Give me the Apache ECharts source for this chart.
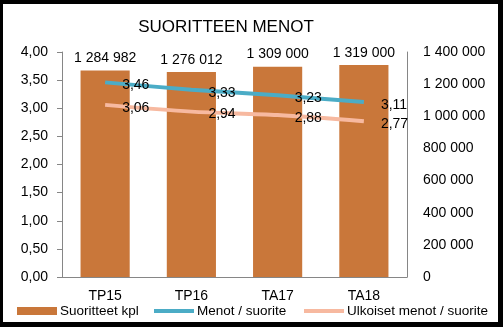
<!DOCTYPE html>
<html><head><meta charset="utf-8">
<script src="https://cdn.jsdelivr.net/npm/echarts@6/dist/echarts.min.js"></script>
<style>
html,body{margin:0;padding:0;background:#000;}
#wrap{position:absolute;left:0;top:0;width:503px;height:327px;background:#000;}
#c{position:absolute;left:3px;top:4px;width:495px;height:318px;background:#fff;}
</style></head><body>
<div id="wrap"><div id="c"></div></div>
<script>
const categories = ['TP15','TP16','TA17','TA18'];
const suoritteet = [1284982, 1276012, 1309000, 1319000];
const menot = [3.46, 3.33, 3.23, 3.11];
const ulkoiset = [3.06, 2.94, 2.88, 2.77];
const leftTicks = [0, 0.5, 1, 1.5, 2, 2.5, 3, 3.5, 4];
const rightTicks = [0, 200000, 400000, 600000, 800000, 1000000, 1200000, 1400000];

const F = 'Liberation Sans, Arial, sans-serif';
const FS = 14;
const fmtThousands = v => String(v).replace(/\B(?=(\d{3})+(?!\d))/g, ' ');
const fmtDec = v => v.toFixed(2).replace('.', ',');

const chart = echarts.init(document.getElementById('c'), null, {renderer:'canvas'});
const legendBase = {top: 300, padding:0, itemGap: 0, textStyle:{fontFamily:F, fontSize:13.5, color:'#000', padding:[0,0,0,-2]}, itemWidth:40};
chart.setOption({
  animation:false,
  textStyle:{fontFamily:F},
  title:{text:'SUORITTEEN MENOT', left:218, top:10, textAlign:'center',
    textStyle:{fontFamily:F, fontSize:17, fontWeight:'normal', color:'#000'}},
  grid:{left:59, right:91, top:48, bottom:45, containLabel:false},
  legend:[
    Object.assign({}, legendBase, {left:14, itemHeight:8, data:[{name:'Suoritteet kpl', icon:'rect'}]}),
    Object.assign({}, legendBase, {left:151, itemHeight:4, data:[{name:'Menot / suorite', icon:'rect'}]}),
    Object.assign({}, legendBase, {left:301, itemHeight:4, data:[{name:'Ulkoiset menot / suorite', icon:'rect'}]})
  ],
  xAxis:{type:'category', data:categories,
    axisLine:{lineStyle:{color:'#868686'}}, axisTick:{show:false},
    axisLabel:{fontFamily:F, fontSize:FS, color:'#000', margin:12}},
  yAxis:[
    {type:'value', min:0, max:4, interval:0.5,
     axisLine:{show:true, lineStyle:{color:'#868686'}},
     axisTick:{show:true, length:5, lineStyle:{color:'#868686'}},
     splitLine:{show:false},
     axisLabel:{fontFamily:F, fontSize:FS, color:'#000', margin:14, formatter: v => fmtDec(v)}},
    {type:'value', min:0, max:1400000, interval:200000, position:'right',
     axisLine:{show:true, lineStyle:{color:'#868686'}},
     axisTick:{show:false}, splitLine:{show:false},
     axisLabel:{fontFamily:F, fontSize:FS, color:'#000', margin:16, formatter: v => fmtThousands(v)}}
  ],
  series:[
    {name:'Suoritteet kpl', type:'bar', yAxisIndex:1, data:suoritteet, barWidth:'57%',
     itemStyle:{color:'#C9773A'},
     label:{show:true, position:'top', distance:5, fontFamily:F, fontSize:FS, color:'#000',
       formatter: p => fmtThousands(p.value)}},
    {name:'Menot / suorite', type:'line', yAxisIndex:0, data:menot, smooth:0.3,
     showSymbol:true, symbol:'circle', symbolSize:0, lineStyle:{color:'#4BACC6', width:4}, itemStyle:{color:'#4BACC6'},
     label:{show:true, position:'right', distance:17, offset:[0,3], fontFamily:F, fontSize:FS, color:'#000',
       formatter: p => fmtDec(p.value)}},
    {name:'Ulkoiset menot / suorite', type:'line', yAxisIndex:0, data:ulkoiset, smooth:0.3,
     showSymbol:true, symbol:'circle', symbolSize:0, lineStyle:{color:'#F7B9A0', width:4}, itemStyle:{color:'#F7B9A0'},
     label:{show:true, position:'right', distance:17, offset:[0,3], fontFamily:F, fontSize:FS, color:'#000',
       formatter: p => fmtDec(p.value)}}
  ]
});
</script>
</body></html>
